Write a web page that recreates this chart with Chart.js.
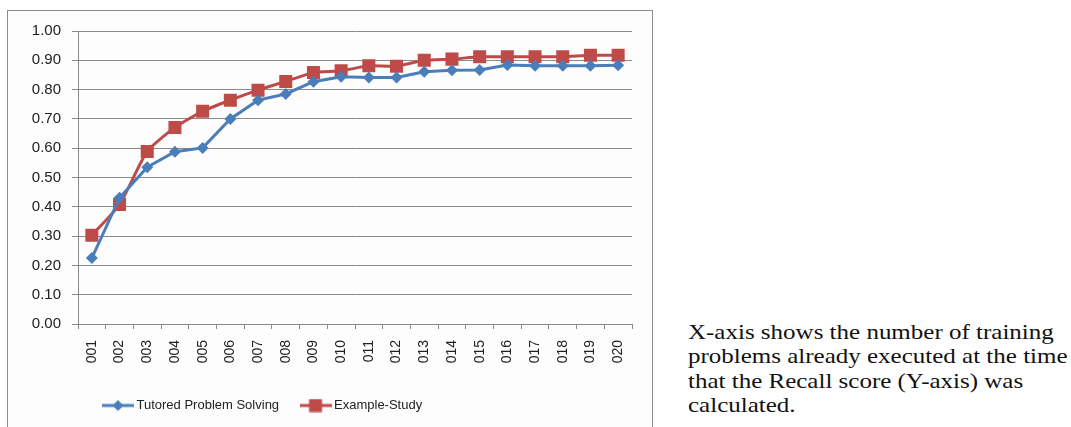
<!DOCTYPE html>
<html>
<head>
<meta charset="utf-8">
<script src="https://cdn.jsdelivr.net/npm/chart.js@4"></script>
<style>
  html, body { margin: 0; padding: 0; background: #fff; overflow: hidden; }
  body { width: 1071px; height: 427px; position: relative; }
  #box { position: absolute; left: 7px; top: 10px; width: 644px; height: 430px; border: 1px solid #8c8c8c; background: #fdfdfd; }
  #wrap { position: absolute; left: 0; top: 0; width: 644px; height: 416px; }
  #note { position: absolute; left: 688px; top: 320px; width: 322px; font-family: "Liberation Serif", "Times New Roman", serif; font-size: 21px; line-height: 24.3px; color: #111; transform: scaleX(1.19); transform-origin: 0 0; }
</style>
</head>
<body>
<div id="box"><div id="wrap"><canvas id="recallChart"></canvas></div></div>
<div id="note">X-axis shows the number of training problems already executed at the time that the Recall score (Y-axis) was calculated.</div>
<script>
var problems = ['001', '002', '003', '004', '005', '006', '007', '008', '009', '010',
                '011', '012', '013', '014', '015', '016', '017', '018', '019', '020'];
var tutored = [0.225, 0.431, 0.535, 0.588, 0.601, 0.700, 0.764, 0.785, 0.827, 0.844,
               0.841, 0.841, 0.861, 0.866, 0.867, 0.884, 0.881, 0.881, 0.881, 0.883];
var exampleStudy = [0.303, 0.408, 0.589, 0.671, 0.726, 0.764, 0.798, 0.828, 0.858, 0.864,
                    0.881, 0.880, 0.900, 0.904, 0.912, 0.912, 0.912, 0.912, 0.917, 0.917];
var yTicks = [0, 0.1, 0.2, 0.3, 0.4, 0.5, 0.6, 0.7, 0.8, 0.9, 1.0];

var BLUE = '#4a7ebb';
var RED = '#be4b48';
var GRID = '#8a8a8a';
var FONT = 'Liberation Sans, Arial, sans-serif';

// little line+marker swatch for the legend
function swatch(color, shape) {
    var c = document.createElement('canvas');
    c.width = 32; c.height = 14;
    var g = c.getContext('2d');
    g.strokeStyle = color; g.lineWidth = 3;
    g.beginPath(); g.moveTo(0, 7); g.lineTo(32, 7); g.stroke();
    g.fillStyle = color;
    g.beginPath();
    if (shape === 'diamond') {
        g.moveTo(16, 1.5); g.lineTo(21.5, 7); g.lineTo(16, 12.5); g.lineTo(10.5, 7);
    } else {
        g.rect(9.5, 0.5, 13, 13);
    }
    g.fill();
    return c;
}
var legendIcons = [swatch(BLUE, 'diamond'), swatch(RED, 'square')];

// legend sits left of centre, under the first half of the plot
var legendShift = {
    id: 'legendShift',
    afterLayout: function(chart) {
        if (chart.legend) chart.legend.left += 88;
    }
};

new Chart(document.getElementById('recallChart'), {
    type: 'line',
    data: {
        labels: problems,
        datasets: [{
            label: 'Tutored Problem Solving',
            data: tutored,
            borderColor: BLUE,
            backgroundColor: BLUE,
            borderWidth: 3,
            pointStyle: 'rectRot',
            pointRadius: 6,
            pointBorderWidth: 0,
            tension: 0
        }, {
            label: 'Example-Study',
            data: exampleStudy,
            borderColor: RED,
            backgroundColor: RED,
            borderWidth: 3,
            pointStyle: 'rect',
            pointRadius: 9.2,
            pointBorderWidth: 0,
            tension: 0.2
        }]
    },
    plugins: [legendShift],
    options: {
        responsive: true,
        maintainAspectRatio: false,
        animation: false,
        layout: { padding: { left: 0, right: 20, top: 19, bottom: 5 } },
        plugins: {
            tooltip: { enabled: false },
            legend: {
                position: 'bottom',
                align: 'start',
                labels: {
                    usePointStyle: true,
                    pointStyleWidth: 24,
                    color: '#222',
                    font: { family: FONT, size: 13 },
                    padding: 10,
                    generateLabels: function(chart) {
                        var items = Chart.defaults.plugins.legend.labels.generateLabels(chart);
                        items.forEach(function(it, i) {
                            it.pointStyle = legendIcons[i];
                            if (i === 0) it.text = it.text + '    ';
                        });
                        return items;
                    }
                }
            }
        },
        scales: {
            x: {
                offset: true,
                grid: { display: true, drawOnChartArea: false, drawTicks: true, tickLength: 5, color: GRID, offset: true },
                border: { color: GRID },
                ticks: {
                    minRotation: 90, maxRotation: 90, padding: 11, autoSkip: false,
                    color: '#222',
                    font: { family: FONT, size: 14 }
                },
                afterFit: function(s) { s.height = 65; }
            },
            y: {
                min: 0, max: 1,
                afterBuildTicks: function(s) { s.ticks = yTicks.map(function(v) { return { value: v }; }); },
                grid: { color: GRID, tickLength: 6 },
                border: { color: GRID },
                ticks: {
                    padding: 11,
                    color: '#222',
                    font: { family: FONT, size: 15 },
                    callback: function(v) { return Number(v).toFixed(2); }
                },
                afterFit: function(s) { s.width = 70; }
            }
        }
    }
});
</script>
</body>
</html>
